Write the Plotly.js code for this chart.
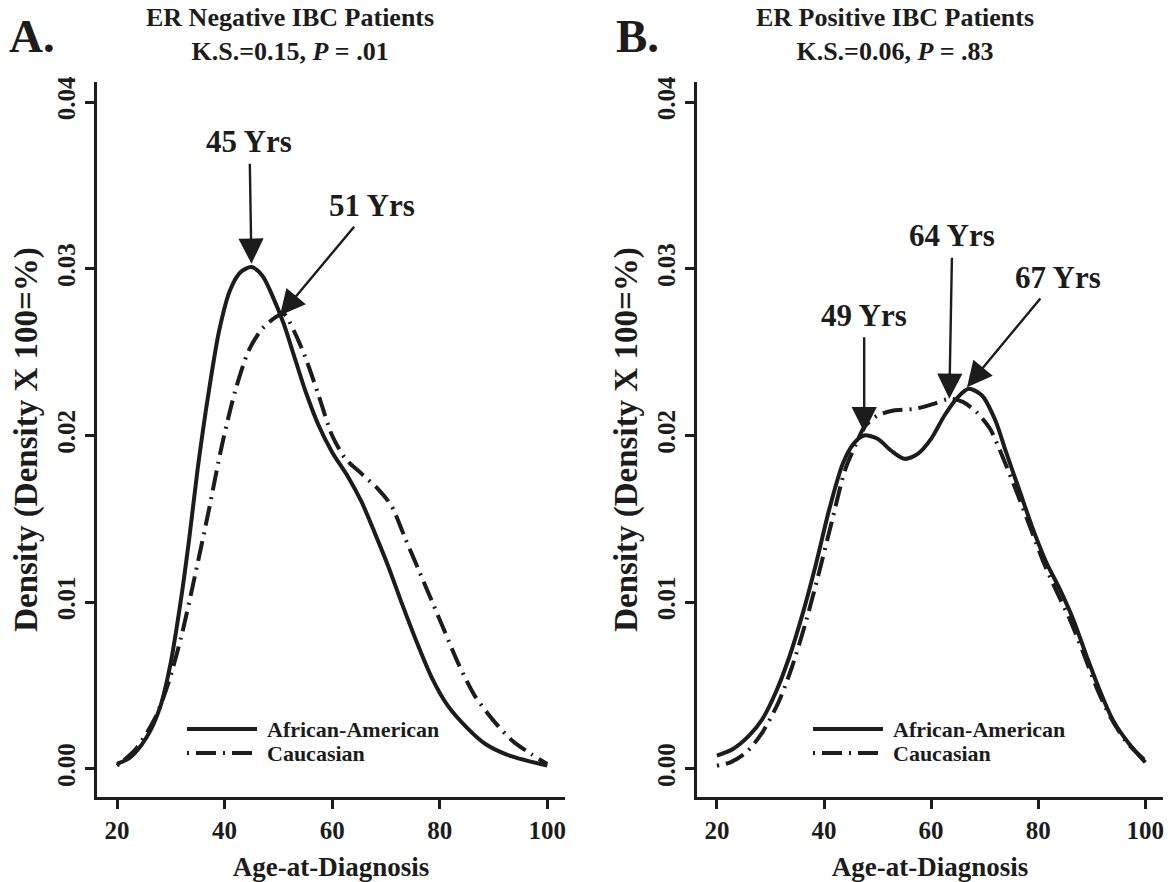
<!DOCTYPE html>
<html>
<head>
<meta charset="utf-8">
<script src="https://cdn.plot.ly/plotly-3.0.1.min.js"></script>
<style>html,body{margin:0;padding:0;background:#fff;}#chart{width:1174px;height:882px;}</style>
</head>
<body>
<div id="chart"></div>
<script>
// ---- Data ----
const ageNegAA   = [20,22.5,25.5,28,30,32,33.5,35,37,39,41,43,45,47,49,51,53,55,57.5,60,63,65.5,68,70.5,73,75.5,78.5,81.5,85,88.5,93,100];
const densNegAA  = [0.0003,0.0007,0.0019,0.0037,0.0064,0.0104,0.0140,0.0180,0.0225,0.0263,0.0287,0.0298,0.0301,0.0296,0.0283,0.0267,0.0247,0.0227,0.0206,0.0190,0.0175,0.0160,0.0141,0.0121,0.0099,0.0078,0.0055,0.0038,0.0025,0.0015,0.0008,0.0002];
const ageNegCA   = [20,23.5,27,29.5,32,34.5,37,39.5,42,44.5,47,49.5,51,53,55,57.5,60,62.5,65.5,68.5,71,73.5,76,78.5,81,83.5,86.5,90,93.5,97,100];
const densNegCA  = [0.0002,0.0012,0.0030,0.0051,0.0080,0.0116,0.0154,0.0194,0.0227,0.0251,0.0264,0.0271,0.0273,0.0262,0.0247,0.0224,0.0200,0.0186,0.0177,0.0168,0.0158,0.0139,0.0120,0.0101,0.0082,0.0063,0.0044,0.0029,0.0017,0.0009,0.0003];
const agePosAA   = [20,23,26,28.5,31,33.5,36,38.5,41,43.5,45.5,47.5,50,52.5,55,57.5,60,62.5,65,67,69.5,72,74,76.5,79,81.5,84,86.5,89,91.5,94,97,100];
const densPosAA  = [0.0008,0.0012,0.0020,0.0030,0.0046,0.0067,0.0093,0.0123,0.0156,0.0183,0.0195,0.0200,0.0198,0.0191,0.0186,0.0189,0.0198,0.0212,0.0223,0.0228,0.0224,0.0209,0.0190,0.0167,0.0144,0.0124,0.0108,0.0090,0.0068,0.0047,0.0029,0.0015,0.0004];
const agePosCA   = [20,22.5,25.5,28.5,31.5,34,36.5,39,41.5,44,46,47.5,50,53,57,60.5,63.5,66,68.5,71,73.5,76,78.5,81,83.5,86,88.5,91,93.5,96.5,100];
const densPosCA  = [0.0002,0.0004,0.0010,0.0022,0.0040,0.0061,0.0087,0.0117,0.0149,0.0180,0.0195,0.0205,0.0212,0.0215,0.0216,0.0219,0.0222,0.0220,0.0214,0.0204,0.0186,0.0166,0.0145,0.0124,0.0106,0.0089,0.0069,0.0048,0.0031,0.0016,0.0005];

const seriesNames = ["African-American", "Caucasian"];
const xTicks = [20, 40, 60, 80, 100];
const yTicks = [0, 0.01, 0.02, 0.03, 0.04];
const yTickText = ["0.00", "0.01", "0.02", "0.03", "0.04"];
const panelTitles = ["ER Negative IBC Patients<br>K.S.=0.15, <i>P</i> = .01",
                     "ER Positive IBC Patients<br>K.S.=0.06, <i>P</i> = .83"];
const panelLetters = ["A.", "B."];
const peakLabelsNeg = [{age: 45, dens: 0.0303, text: "45 Yrs"}, {age: 50.3, dens: 0.0272, text: "51 Yrs"}];
const peakLabelsPos = [{age: 47.5, dens: 0.0202, text: "49 Yrs"}, {age: 63.4, dens: 0.0222, text: "64 Yrs"}, {age: 66.7, dens: 0.0229, text: "67 Yrs"}];

// ---- Styling ----
const INK = "#1c1c1c";
const FONT = "Liberation Serif";
const DASHDOT = "2px,7px,20px,7px";
const W = 1174, H = 882;
const M = {l: 97, r: 11, t: 82, b: 85};
const PW = W - M.l - M.r, PH = H - M.t - M.b;
const px2x = p => (p - M.l) / PW;
const py2y = p => (H - M.b - p) / PH;

function curve(x, y, name, dash, xa, ya) {
  return {x: x, y: y, name: name, type: "scatter", mode: "lines", xaxis: xa, yaxis: ya,
          showlegend: false, hoverinfo: "x+y+name",
          line: {color: INK, width: 4, dash: dash, shape: "spline", smoothing: 0.8}};
}

const data = [
  curve(ageNegAA, densNegAA, seriesNames[0], "solid", "x", "y"),
  curve(ageNegCA, densNegCA, seriesNames[1], DASHDOT, "x", "y"),
  curve(agePosAA, densPosAA, seriesNames[0], "solid", "x2", "y2"),
  curve(agePosCA, densPosCA, seriesNames[1], DASHDOT, "x2", "y2")
];

const tickFont = {family: FONT, size: 25, color: INK, weight: "bold"};
function xAxis(domain, anchor) {
  return {domain: domain, anchor: anchor, range: [16.28, 103.3], tickvals: xTicks,
          showline: true, linewidth: 3, linecolor: INK, ticks: "outside", ticklen: 9, tickwidth: 2.5, tickcolor: INK,
          showgrid: false, zeroline: false, tickfont: tickFont,
          title: {text: "Age-at-Diagnosis", font: {family: FONT, size: 27, color: INK, weight: "bold"}, standoff: 17}};
}
function yAxis(anchor) {
  return {domain: [0, 1], anchor: anchor, range: [-0.00168, 0.0412], tickvals: yTicks, ticktext: yTickText,
          showline: true, linewidth: 3, linecolor: INK, ticks: "outside", ticklen: 9, tickwidth: 2.5, tickcolor: INK,
          tickangle: -90, showgrid: false, zeroline: false, tickfont: tickFont,
          title: {text: "Density (Density X 100=%)", font: {family: FONT, size: 33, color: INK, weight: "bold"}, standoff: 6}};
}

const annotations = [];
const titleCentre = [290, 895];
const letterX = [32, 637];
for (let i = 0; i < 2; i++) {
  annotations.push({xref: "paper", yref: "paper", x: px2x(titleCentre[i]), y: py2y(34), xanchor: "center", yanchor: "middle",
    text: "<b>" + panelTitles[i].replace("<br>", "</b><br><b>") + "</b>", showarrow: false, align: "center",
    font: {family: FONT, size: 26, color: INK}});
  annotations.push({xref: "paper", yref: "paper", x: px2x(letterX[i]), y: py2y(36), xanchor: "center", yanchor: "middle",
    text: "<b>" + panelLetters[i] + "</b>", showarrow: false, font: {family: FONT, size: 47, color: INK}});
}
const offNeg = [[-2, -122], [92, -110]];
const offPos = [[0, -117], [3, -163], [91, -110]];
function arrowNote(p, off, xa, ya) {
  return {x: p.age, y: p.dens, xref: xa, yref: ya, text: "<b>" + p.text + "</b>", showarrow: true,
          ax: off[0], ay: off[1], arrowhead: 2, arrowsize: 2.1, arrowwidth: 2.4, arrowcolor: INK,
          standoff: 0, startstandoff: 3, font: {family: FONT, size: 31, color: INK}};
}
peakLabelsNeg.forEach((p, i) => annotations.push(arrowNote(p, offNeg[i], "x", "y")));
peakLabelsPos.forEach((p, i) => annotations.push(arrowNote(p, offPos[i], "x2", "y2")));

// hand-drawn legends (long sample lines as in the original)
const shapes = [];
const legendLeft = [187, 813];
const legendRows = [729, 753];
for (let i = 0; i < 2; i++) {
  for (let r = 0; r < 2; r++) {
    shapes.push({type: "line", xref: "paper", yref: "paper",
      x0: px2x(legendLeft[i]), x1: px2x(legendLeft[i] + 70), y0: py2y(legendRows[r]), y1: py2y(legendRows[r]),
      line: {color: INK, width: 4, dash: r === 0 ? "solid" : DASHDOT}});
    annotations.push({xref: "paper", yref: "paper", x: px2x(legendLeft[i] + 78), y: py2y(legendRows[r]),
      xanchor: "left", yanchor: "middle", text: "<b>" + seriesNames[r] + "</b>", showarrow: false,
      font: {family: FONT, size: 22, color: INK}});
  }
}

const layout = {
  width: W, height: H, margin: M, paper_bgcolor: "#fff", plot_bgcolor: "#fff", showlegend: false,
  font: {family: FONT, color: INK},
  xaxis: xAxis([0, (565 - 97) / PW], "y"),
  yaxis: yAxis("x"),
  xaxis2: xAxis([(697 - 97) / PW, 1], "y2"),
  yaxis2: yAxis("x2"),
  annotations: annotations, shapes: shapes
};

Plotly.newPlot("chart", data, layout, {displayModeBar: false, responsive: false});
</script>
</body>
</html>
